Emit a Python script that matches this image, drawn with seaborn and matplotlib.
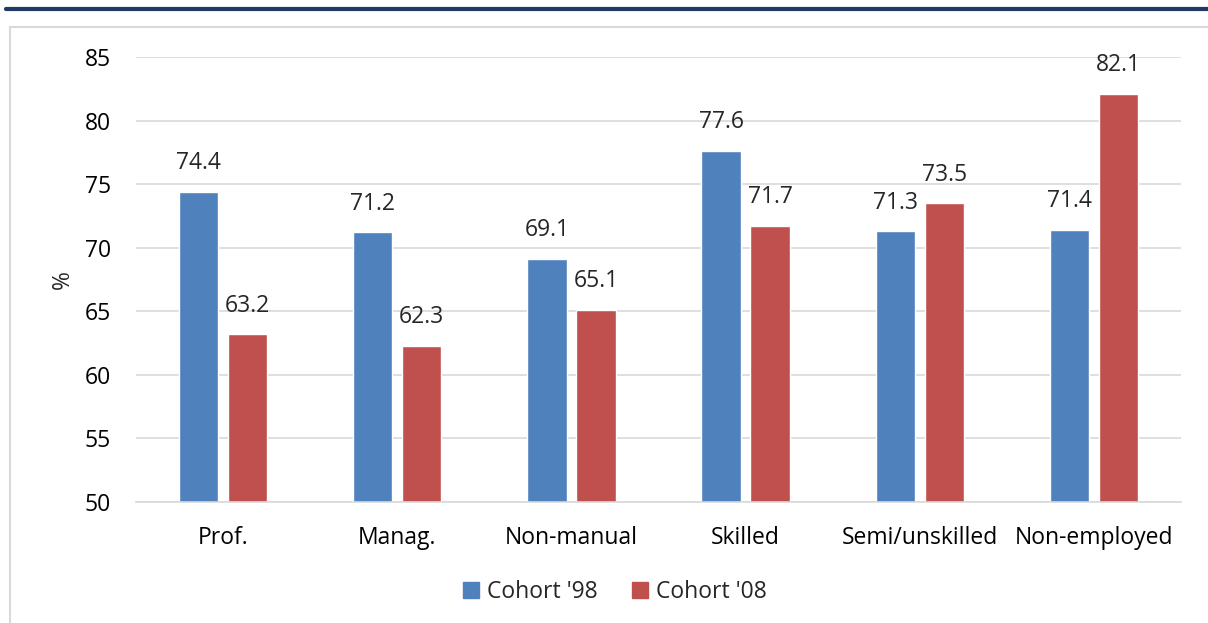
import matplotlib
matplotlib.use("Agg")
import matplotlib.pyplot as plt
import seaborn as sns
import pandas as pd
from matplotlib.patches import Rectangle
from matplotlib.lines import Line2D

categories = ["Prof.", "Manag.", "Non-manual", "Skilled", "Semi/unskilled", "Non-employed"]
cohort_98 = [74.4, 71.2, 69.1, 77.6, 71.3, 71.4]
cohort_08 = [63.2, 62.3, 65.1, 71.7, 73.5, 82.1]
series = ["Cohort '98", "Cohort '08"]
colors = ["#4F81BD", "#C0504D"]

sns.set_theme(style="white")
plt.rcParams['font.family'] = ['Open Sans', 'DejaVu Sans']

df = pd.DataFrame({
    "category": categories * 2,
    "value": cohort_98 + cohort_08,
    "cohort": [series[0]] * len(categories) + [series[1]] * len(categories),
})

FS = 16.5

fig = plt.figure(figsize=(12.08, 6.23), dpi=100)
ax = fig.add_axes([136 / 1208, 1 - 502 / 623, (1181 - 136) / 1208, (502 - 57) / 623])

# 50 is the bottom of the value axis, bars start there
g = sns.barplot(data=df, x="category", y="value", hue="cohort", palette=colors,
                width=0.5625, gap=0.2, bottom=0, ax=ax, legend=False, saturation=1)

ax.set_ylim(50, 85)
ax.set_xlim(-0.5, len(categories) - 0.5)
ax.set_yticks(range(50, 90, 5))
ax.yaxis.grid(True, color="#D9D9D9", linewidth=1.2)
ax.set_axisbelow(True)
for s in ["top", "right", "left"]:
    ax.spines[s].set_visible(False)
ax.spines["bottom"].set_color("#D9D9D9")
ax.spines["bottom"].set_linewidth(1.2)
ax.tick_params(axis="y", length=0, labelsize=FS, colors="black", pad=18)
ax.tick_params(axis="x", length=0, labelsize=FS, colors="black", pad=17)
ax.set_xlabel("")
ax.set_ylabel("%", fontsize=FS, labelpad=7)

for cont in ax.containers:
    for bar in cont:
        h = bar.get_height()
        ax.annotate("{:.1f}".format(h), (bar.get_x() + bar.get_width() / 2, h),
                    xytext=(0, 12), textcoords="offset points",
                    ha="center", va="bottom", fontsize=FS)

handles = [Rectangle((0, 0), 1, 1, color=c) for c in colors]
fig.legend(handles, series, loc="center", bbox_to_anchor=(615 / 1208, 1 - 592 / 623),
           ncol=2, frameon=False, fontsize=FS, handlelength=0.7, handleheight=0.7,
           handletextpad=0.35, columnspacing=1.5)

# outer frame and top rule
fig.patches.append(Rectangle((10 / 1208, -0.1), 1.2, 1.1 - 27 / 623, transform=fig.transFigure,
                             fill=False, edgecolor="#D9D9D9", linewidth=1.5))
fig.lines.append(Line2D([6 / 1208, 1], [1 - 9 / 623] * 2, transform=fig.transFigure,
                        color="#1F3864", linewidth=3))

plt.savefig("out.png", dpi=100)
